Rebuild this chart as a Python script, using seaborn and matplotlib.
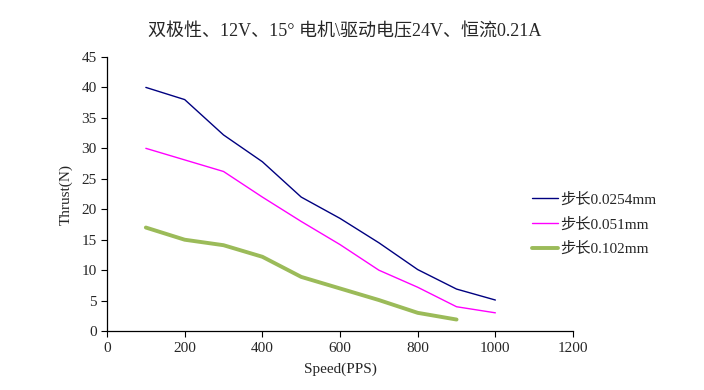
import matplotlib
matplotlib.use("Agg")
import matplotlib.pyplot as plt
import seaborn as sns
import pandas as pd

speed_a = [100, 200, 300, 400, 500, 600, 700, 800, 900, 1000]
thrust_a = [40, 38, 32.2, 27.8, 22, 18.5, 14.5, 10.1, 6.9, 5.1]
speed_b = [100, 200, 300, 400, 500, 600, 700, 800, 900, 1000]
thrust_b = [30, 28.1, 26.2, 22, 18, 14.2, 10, 7.2, 4, 3]
speed_c = [100, 200, 300, 400, 500, 600, 700, 800, 900]
thrust_c = [17, 15, 14.1, 12.2, 8.9, 7, 5.1, 3, 1.9]
labels = ["步长0.0254mm", "步长0.051mm", "步长0.102mm"]
title = "双极性、12V、15° 电机\\驱动电压24V、恒流0.21A"
x_ticks = [0, 200, 400, 600, 800, 1000, 1200]
y_ticks = [0, 5, 10, 15, 20, 25, 30, 35, 40, 45]

sns.set_style("white")
plt.rcParams['font.family'] = ['Liberation Serif', 'Noto Sans CJK SC', 'DejaVu Sans']

fig = plt.figure(figsize=(7.04, 3.9), dpi=100)
ax = fig.add_axes([0.152, 0.151, 0.662, 0.703])

colors = ["#000080", "#FF00FF", "#9BBB59"]
widths = [1.0, 1.0, 2.8]
for xs, ys, lab, c, w in zip([speed_a, speed_b, speed_c],
                             [thrust_a, thrust_b, thrust_c],
                             labels, colors, widths):
    df = pd.DataFrame({"x": xs, "y": ys})
    sns.lineplot(data=df, x="x", y="y", ax=ax, color=c, linewidth=w, label=lab)

ax.set_xlim(0, 1200)
ax.set_ylim(0, 45)
ax.set_xticks(x_ticks)
ax.set_yticks(y_ticks)
ax.tick_params(axis='both', direction='out', length=4, width=0.8, labelsize=11,
               bottom=True, left=True, color='black')
for s in ["top", "right"]:
    ax.spines[s].set_visible(False)
for s in ["left", "bottom"]:
    ax.spines[s].set_color("black")
    ax.spines[s].set_linewidth(0.9)

ax.set_xlabel("Speed(PPS)", fontsize=11, labelpad=6)
ax.set_ylabel("Thrust(N)", fontsize=11, labelpad=6)
fig.text(0.49, 0.92, title, ha='center', va='center', fontsize=13)

leg = ax.legend(loc='center left', bbox_to_anchor=(0.912, 0.39), frameon=False,
                fontsize=11, handlelength=1.7, handletextpad=0.15, labelspacing=0.68,
                borderaxespad=0, borderpad=0)

fig.savefig("out.png", dpi=100)
